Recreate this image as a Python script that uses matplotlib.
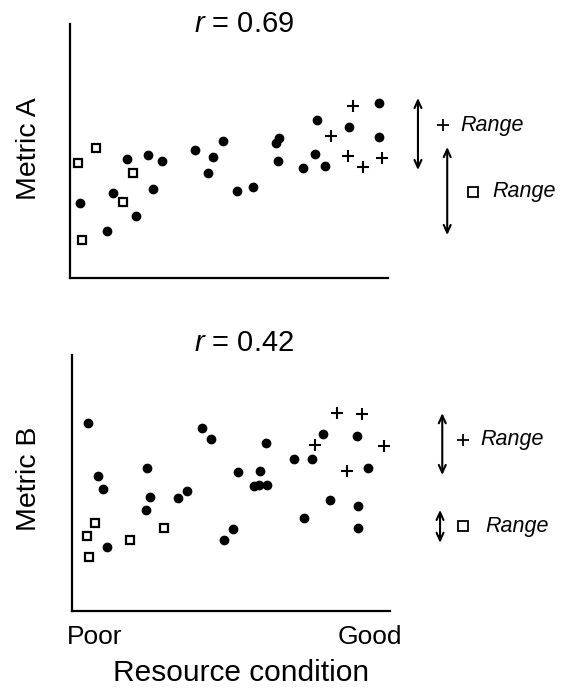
import matplotlib
matplotlib.use("Agg")
from matplotlib import pyplot as plt

plt.rcParams['font.family'] = ['Liberation Sans', 'DejaVu Sans']
plt.rcParams['mathtext.fontset'] = 'custom'
plt.rcParams['mathtext.it'] = 'Liberation Sans:italic'
plt.rcParams['mathtext.rm'] = 'Liberation Sans'

# Metric A (top panel) - x: resource condition (0 poor .. 100 good), y: metric value
a_dot_x = [3.1, 11.7, 13.6, 17.9, 20.8, 24.4, 26.1, 28.9, 39.2, 45.1, 43.5, 48.2,
           52.5, 57.5, 64.8, 65.6, 65.5, 73.2, 77.8, 77.1, 80.3, 87.8, 97.3, 97.3]
a_dot_y = [29.6, 18.5, 33.3, 46.9, 24.3, 48.4, 34.9, 46.1, 50.5, 47.6, 41.5, 53.9,
           34.1, 35.9, 53.1, 55.0, 46.2, 43.2, 62.1, 48.8, 44.2, 59.6, 68.8, 55.6]
a_sq_x = [2.6, 8.2, 19.9, 16.7, 3.8]
a_sq_y = [45.4, 51.1, 41.2, 29.9, 15.0]
a_plus_x = [89.0, 82.0, 87.5, 92.1, 98.1]
a_plus_y = [67.9, 55.9, 48.0, 43.8, 47.2]

# Metric B (bottom panel)
b_dot_x = [5.0, 8.3, 9.8, 10.9, 23.7, 24.6, 23.4, 33.3, 36.2, 40.9, 43.6, 47.7, 50.5, 52.2,
           59.2, 57.2, 58.9, 61.3, 60.9, 69.8, 75.3, 78.8, 73.0, 81.0, 89.6, 92.9, 89.8, 89.8]
b_dot_y = [73.3, 52.7, 47.5, 25.0, 56.0, 44.5, 39.5, 44.1, 46.8, 71.6, 67.1, 27.6, 32.1, 54.2,
           54.7, 48.8, 49.1, 49.1, 65.6, 59.3, 59.3, 69.3, 36.3, 43.4, 68.4, 55.9, 40.9, 32.3]
b_sq_x = [7.1, 4.8, 5.3, 18.2, 29.0]
b_sq_y = [34.5, 29.4, 21.1, 27.9, 32.5]
b_plus_x = [83.4, 91.3, 76.5, 86.4, 98.1]
b_plus_y = [77.5, 77.0, 64.7, 54.8, 64.5]

titles = ["$r$ = 0.69", "$r$ = 0.42"]
ylabels = ["Metric A", "Metric B"]

fig = plt.figure(figsize=(5.68, 6.90), dpi=100)
ax1 = fig.add_axes([0.1232, 0.5971, 0.56, 0.368])
ax2 = fig.add_axes([0.1268, 0.1145, 0.56, 0.371])


def draw_panel(ax, dx, dy, sx, sy, px, py):
    ax.plot(dx, dy, 'o', color='black', markersize=6, clip_on=False)
    ax.plot(sx, sy, 's', mfc='white', mec='black', mew=1.6, markersize=6.3, clip_on=False)
    ax.plot(px, py, '+', color='black', markersize=9, mew=1.5, clip_on=False)
    ax.set_xlim(0, 100)
    ax.set_ylim(0, 100)
    ax.set_xticks([])
    ax.set_yticks([])
    for side in ['top', 'right']:
        ax.spines[side].set_visible(False)
    for side in ['left', 'bottom']:
        ax.spines[side].set_linewidth(1.6)


draw_panel(ax1, a_dot_x, a_dot_y, a_sq_x, a_sq_y, a_plus_x, a_plus_y)
draw_panel(ax2, b_dot_x, b_dot_y, b_sq_x, b_sq_y, b_plus_x, b_plus_y)


# range arrows with their labels (in axes fractions)
def range_arrow(ax, x, y0, y1):
    ax.annotate('', xy=(x, y0), xytext=(x, y1), xycoords='axes fraction',
                textcoords='axes fraction',
                arrowprops=dict(arrowstyle='<->,head_length=0.55,head_width=0.25',
                                color='black', lw=1.5, shrinkA=0, shrinkB=0))


def range_label(ax, x, y, marker, text_x):
    if marker == '+':
        ax.plot([x], [y], '+', color='black', markersize=9, mew=1.3,
                transform=ax.transAxes, clip_on=False)
    else:
        ax.plot([x], [y], 's', mfc='white', mec='black', mew=1.3, markersize=6.5,
                transform=ax.transAxes, clip_on=False)
    ax.text(text_x, y, "Range", style='italic', fontsize=15.5, ha='left', va='center',
            transform=ax.transAxes)


range_arrow(ax1, 1.094, 0.709, 0.425)
range_arrow(ax1, 1.186, 0.516, 0.169)
range_label(ax1, 1.173, 0.602, '+', 1.228)
range_label(ax1, 1.267, 0.339, 's', 1.328)

range_arrow(ax2, 1.164, 0.773, 0.531)
range_arrow(ax2, 1.157, 0.395, 0.266)
range_label(ax2, 1.230, 0.668, '+', 1.283)
range_label(ax2, 1.230, 0.332, 's', 1.300)

# titles and labels
fig.text(0.43, 0.965, titles[0], fontsize=21, ha='center', va='center')
fig.text(0.43, 0.503, titles[1], fontsize=21, ha='center', va='center')
fig.text(0.051, 0.784, ylabels[0], fontsize=20.5, rotation=90, ha='center', va='center')
fig.text(0.051, 0.306, ylabels[1], fontsize=20.5, rotation=90, ha='center', va='center')
fig.text(0.1665, 0.077, "Poor", fontsize=19, ha='center', va='center')
fig.text(0.651, 0.077, "Good", fontsize=19, ha='center', va='center')
fig.text(0.425, 0.0246, "Resource condition", fontsize=21.5, ha='center', va='center')

fig.savefig("out.png", dpi=100)
